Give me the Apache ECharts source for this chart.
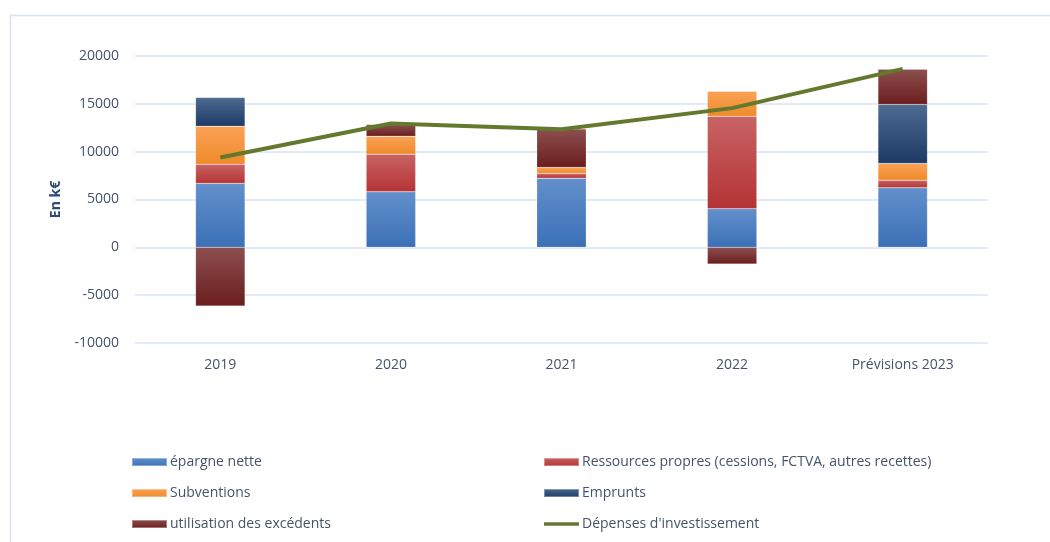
<!DOCTYPE html>
<html><head><meta charset="utf-8">
<script src="https://cdn.jsdelivr.net/npm/echarts@6/dist/echarts.min.js"></script>
<style>html,body{margin:0;padding:0;background:#fff}#c{width:1050px;height:542px}</style>
</head><body><div id="c"></div>
<script>
const categories = ['2019', '2020', '2021', '2022', 'Prévisions 2023'];
const epargne = [6680, 5800, 7230, 4030, 6220];
const ressources = [2015, 3940, 490, 9670, 805];
const subventions = [3965, 1880, 630, 2620, 1745];
const emprunts = [3000, 0, 0, 0, 6160];
const excedents = [-6130, 1220, 4030, -1740, 3680];
const depenses = [9395, 12950, 12350, 14550, 18650];
const yTicks = [-10000, -5000, 0, 5000, 10000, 15000, 20000];

const FONT = '"Open Sans", "Liberation Sans", sans-serif';
const TXT = '#44546A';
function grad(top, bottom) {
  return new echarts.graphic.LinearGradient(0, 0, 0, 1, [{offset: 0, color: top}, {offset: 1, color: bottom}]);
}
const chart = echarts.init(document.getElementById('c'), null, {renderer: 'canvas'});
function bar(name, data, top, bottom) {
  return {
    name, type: 'bar', stack: 'total', data, barWidth: '29%',
    itemStyle: {color: grad(top, bottom), borderColor: 'rgba(255,255,255,0.35)', borderWidth: 0.5},
    emphasis: {disabled: true}
  };
}
const legendText = {color: TXT, fontFamily: FONT, fontSize: 14, lineHeight: 16, padding: [0, 0, 0, -2]};
const lineIcon = 'path://M0,0 L70,0 L70,7 L0,7 Z';
chart.setOption({
  animation: false,
  graphic: [{type: 'rect', shape: {x: 10.5, y: 15.5, width: 1100, height: 600}, style: {fill: 'none', stroke: '#d6e2f2', lineWidth: 1.5}, silent: true}],
  grid: {left: 135, right: 62, top: 56, bottom: 199, containLabel: false},
  legend: [
    {orient: 'vertical', left: 131, top: 454, padding: 0, height: 120, itemWidth: 35, itemHeight: 8, itemGap: 15,
     data: [{name: 'épargne nette', icon: 'rect'}, {name: 'Subventions', icon: 'rect'}, {name: 'utilisation des excédents', icon: 'rect'}],
     textStyle: legendText},
    {orient: 'vertical', left: 543, top: 454, padding: 0, height: 120, itemWidth: 35, itemHeight: 8, itemGap: 15,
     data: [{name: 'Ressources propres (cessions, FCTVA, autres recettes)', icon: 'rect'}, {name: 'Emprunts', icon: 'rect'}, {name: "Dépenses d'investissement", icon: lineIcon}],
     textStyle: legendText}
  ],
  xAxis: {
    type: 'category', data: categories,
    axisLine: {show: false}, axisTick: {show: false},
    axisLabel: {color: TXT, fontFamily: FONT, fontSize: 14, margin: 15}
  },
  yAxis: {
    type: 'value', min: -10000, max: 20000, interval: 5000,
    name: 'En k€', nameLocation: 'middle', nameRotate: 90, nameGap: 72,
    nameTextStyle: {color: '#2F4A78', fontFamily: FONT, fontSize: 14, fontWeight: 'bold'},
    axisLine: {show: false}, axisTick: {show: false},
    axisLabel: {color: TXT, fontFamily: FONT, fontSize: 14, margin: 16,
      formatter: v => yTicks.includes(v) ? String(v) : ''},
    splitLine: {lineStyle: {color: '#dae5f4', width: 1.5}}
  },
  series: [
    bar('épargne nette', epargne, '#6390cc', '#3b70b6'),
    bar('Ressources propres (cessions, FCTVA, autres recettes)', ressources, '#c96364', '#b43334'),
    bar('Subventions', subventions, '#fba257', '#ee8a2a'),
    bar('Emprunts', emprunts, '#4d6a91', '#1d3a66'),
    bar('utilisation des excédents', excedents, '#8c4f4f', '#6b1d1d'),
    {name: "Dépenses d'investissement", type: 'line', data: depenses, symbol: 'none',
     lineStyle: {color: '#62792e', width: 4}, itemStyle: {color: '#62792e'}, z: 5, emphasis: {disabled: true}}
  ]
});
</script></body></html>
